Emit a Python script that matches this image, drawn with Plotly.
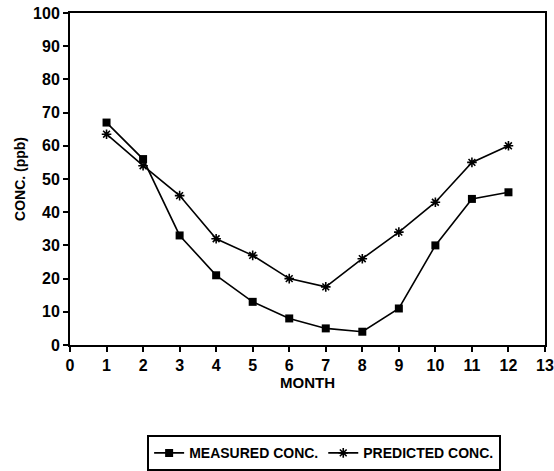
import plotly.graph_objects as go

months = [1, 2, 3, 4, 5, 6, 7, 8, 9, 10, 11, 12]
measured = [67, 56, 33, 21, 13, 8, 5, 4, 11, 30, 44, 46]
predicted = [63.5, 54, 45, 32, 27, 20, 17.5, 26, 34, 43, 55, 60]
x_ticks = list(range(0, 14))
y_ticks = list(range(0, 101, 10))

FONT = "Liberation Sans"

fig = go.Figure()
fig.add_trace(go.Scatter(
    x=months, y=measured, mode="lines+markers", name="MEASURED CONC.",
    line=dict(color="black", width=1.6),
    marker=dict(symbol="square", size=8, color="black"),
))
fig.add_trace(go.Scatter(
    x=months, y=predicted, mode="lines+markers", name="PREDICTED CONC.",
    line=dict(color="black", width=1.6),
    marker=dict(symbol="asterisk-open", size=8, color="black", line=dict(color="black", width=1.6)),
))

axis_common = dict(
    showline=True, linecolor="black", linewidth=2, mirror=True,
    ticks="outside", ticklen=5, tickwidth=2, tickcolor="black",
    showgrid=False, zeroline=False, automargin=False,
    tickfont=dict(family=FONT, size=16, color="black", weight="bold"),
)

fig.update_xaxes(range=[0, 13], tickvals=x_ticks,
                 title=dict(text="<b>MONTH</b>", font=dict(family=FONT, size=15, color="black"), standoff=0),
                 **axis_common)
fig.update_yaxes(range=[0, 100], tickvals=y_ticks,
                 title=dict(text="<b>CONC. (ppb)</b>", font=dict(family=FONT, size=14, color="black"), standoff=4),
                 **axis_common)

fig.update_layout(
    width=554, height=471,
    margin=dict(l=70, r=9, t=13, b=126, autoexpand=False),
    plot_bgcolor="white", paper_bgcolor="white",
    font=dict(family=FONT, color="black"),
    legend=dict(
        orientation="h", x=0.535, xanchor="center", y=-0.272, yanchor="top",
        bordercolor="black", borderwidth=2, bgcolor="white",
        font=dict(family=FONT, size=14, color="black", weight="bold"),
        itemwidth=30,
    ),
    showlegend=True,
)

fig.write_html("out.html")
